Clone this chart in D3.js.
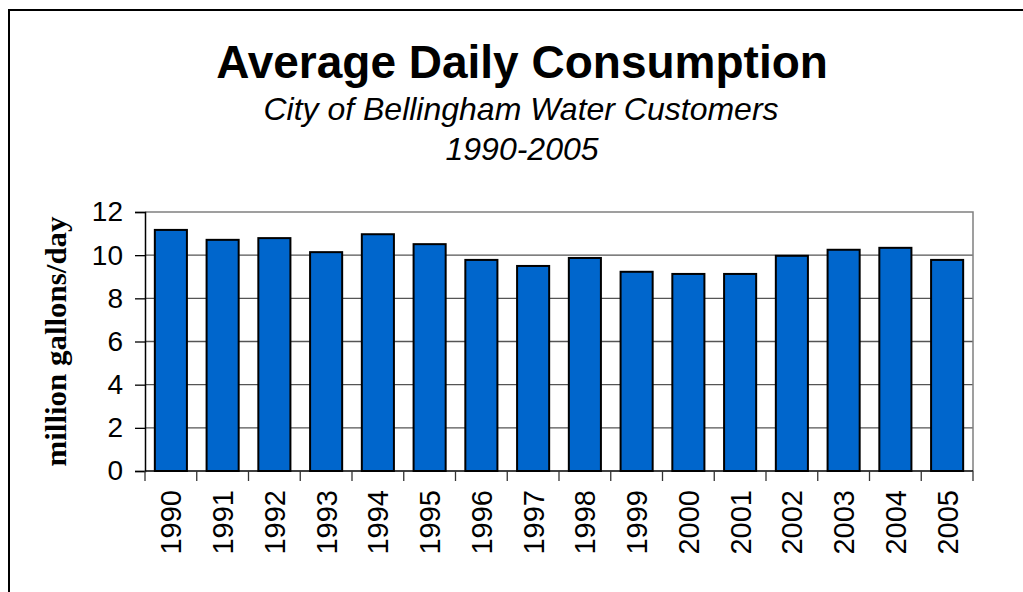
<!DOCTYPE html>
<html>
<head>
<meta charset="utf-8">
<script src="https://cdn.jsdelivr.net/npm/d3@7"></script>
<style>
	html, body { margin: 0; padding: 0; background: #fff; }
	svg { display: block; }
</style>
</head>
<body>
<script>
	//Chart data
	var years = ["1990", "1991", "1992", "1993", "1994", "1995", "1996", "1997",
		"1998", "1999", "2000", "2001", "2002", "2003", "2004", "2005"];
	var consumption = [11.17, 10.71, 10.79, 10.14, 10.97, 10.51, 9.78, 9.50,
		9.87, 9.23, 9.13, 9.13, 9.97, 10.25, 10.34, 9.78];
	var yTicks = [0, 2, 4, 6, 8, 10, 12];

	//SVG configurations
	var svgWidth = 1023, svgHeight = 592;
	var plot = {left: 145, right: 973, top: 212, bottom: 471};
	var barFill = "#0066cc";
	var sans = "'Liberation Sans', Arial, sans-serif";
	var serif = "'Liberation Serif', 'Times New Roman', serif";

	var svg = d3.select("body").append("svg")
		.attr("width", svgWidth)
		.attr("height", svgHeight);

	//outer frame (runs off the right and bottom edge)
	svg.append("rect")
		.attr("x", 9).attr("y", 10)
		.attr("width", 1040).attr("height", 620)
		.attr("fill", "white")
		.attr("stroke", "black")
		.attr("stroke-width", 2);

	var x = d3.scaleBand()
		.domain(years)
		.range([plot.left, plot.right])
		.paddingInner(0.38)
		.paddingOuter(0.19);

	var y = d3.scaleLinear()
		.domain([0, 12])
		.range([plot.bottom, plot.top]);

	//gridlines
	svg.append("g")
		.selectAll("line")
		.data(yTicks.filter(function(d){ return d > 0 && d < 12; }))
		.enter().append("line")
		.attr("x1", plot.left).attr("x2", plot.right)
		.attr("y1", function(d){ return y(d); })
		.attr("y2", function(d){ return y(d); })
		.attr("stroke", "#555")
		.attr("stroke-width", 1.3);

	//plot area top and right
	svg.append("path")
		.attr("d", "M" + plot.left + "," + plot.top + "H" + plot.right + "V" + plot.bottom)
		.attr("fill", "none")
		.attr("stroke", "#808080")
		.attr("stroke-width", 1.5);

	//bars
	svg.append("g")
		.selectAll("rect")
		.data(consumption)
		.enter().append("rect")
		.attr("x", function(d, i){ return x(years[i]); })
		.attr("y", function(d){ return y(d); })
		.attr("width", x.bandwidth())
		.attr("height", function(d){ return y(0) - y(d); })
		.attr("fill", barFill)
		.attr("stroke", "black")
		.attr("stroke-width", 2);

	//y axis
	var yAxis = svg.append("g")
		.attr("transform", "translate(" + plot.left + ",0)")
		.call(d3.axisLeft(y).tickValues(yTicks).tickSize(10).tickPadding(12));
	yAxis.select(".domain").attr("stroke", "black").attr("stroke-width", 1.5);
	yAxis.selectAll(".tick line").attr("stroke", "black").attr("stroke-width", 1.3);
	yAxis.selectAll("text")
		.attr("font-family", sans)
		.attr("font-size", "28px")
		.attr("fill", "black");

	//x axis: ticks sit between categories
	var boundaries = d3.range(years.length + 1).map(function(i){
		return plot.left + i * x.step();
	});
	svg.append("line")
		.attr("x1", plot.left).attr("x2", plot.right)
		.attr("y1", plot.bottom).attr("y2", plot.bottom)
		.attr("stroke", "black")
		.attr("stroke-width", 1.5);
	svg.append("g")
		.selectAll("line")
		.data(boundaries)
		.enter().append("line")
		.attr("x1", function(d){ return d; })
		.attr("x2", function(d){ return d; })
		.attr("y1", plot.bottom)
		.attr("y2", plot.bottom + 10)
		.attr("stroke", "#333")
		.attr("stroke-width", 1.3);

	svg.append("g")
		.selectAll("text")
		.data(years)
		.enter().append("text")
		.attr("transform", function(d){
			return "translate(" + (x(d) + x.bandwidth() / 2) + "," + (plot.bottom + 19) + ") rotate(-90)";
		})
		.attr("dy", "0.36em")
		.attr("text-anchor", "end")
		.attr("font-family", sans)
		.attr("font-size", "29px")
		.text(function(d){ return d; });

	//y axis title
	svg.append("text")
		.attr("transform", "translate(66," + (plot.top + plot.bottom) / 2 + ") rotate(-90)")
		.attr("text-anchor", "middle")
		.attr("font-family", serif)
		.attr("font-weight", "bold")
		.attr("font-size", "29px")
		.attr("textLength", 250)
		.attr("lengthAdjust", "spacingAndGlyphs")
		.text("million gallons/day");

	//titles
	svg.append("text")
		.attr("x", 522).attr("y", 78)
		.attr("text-anchor", "middle")
		.attr("font-family", sans)
		.attr("font-weight", "bold")
		.attr("font-size", "46px")
		.text("Average Daily Consumption");
	svg.append("text")
		.attr("x", 521).attr("y", 120)
		.attr("text-anchor", "middle")
		.attr("font-family", sans)
		.attr("font-style", "italic")
		.attr("font-size", "32px")
		.text("City of Bellingham Water Customers");
	svg.append("text")
		.attr("x", 522).attr("y", 160)
		.attr("text-anchor", "middle")
		.attr("font-family", sans)
		.attr("font-style", "italic")
		.attr("font-size", "32px")
		.text("1990-2005");
</script>
</body>
</html>
